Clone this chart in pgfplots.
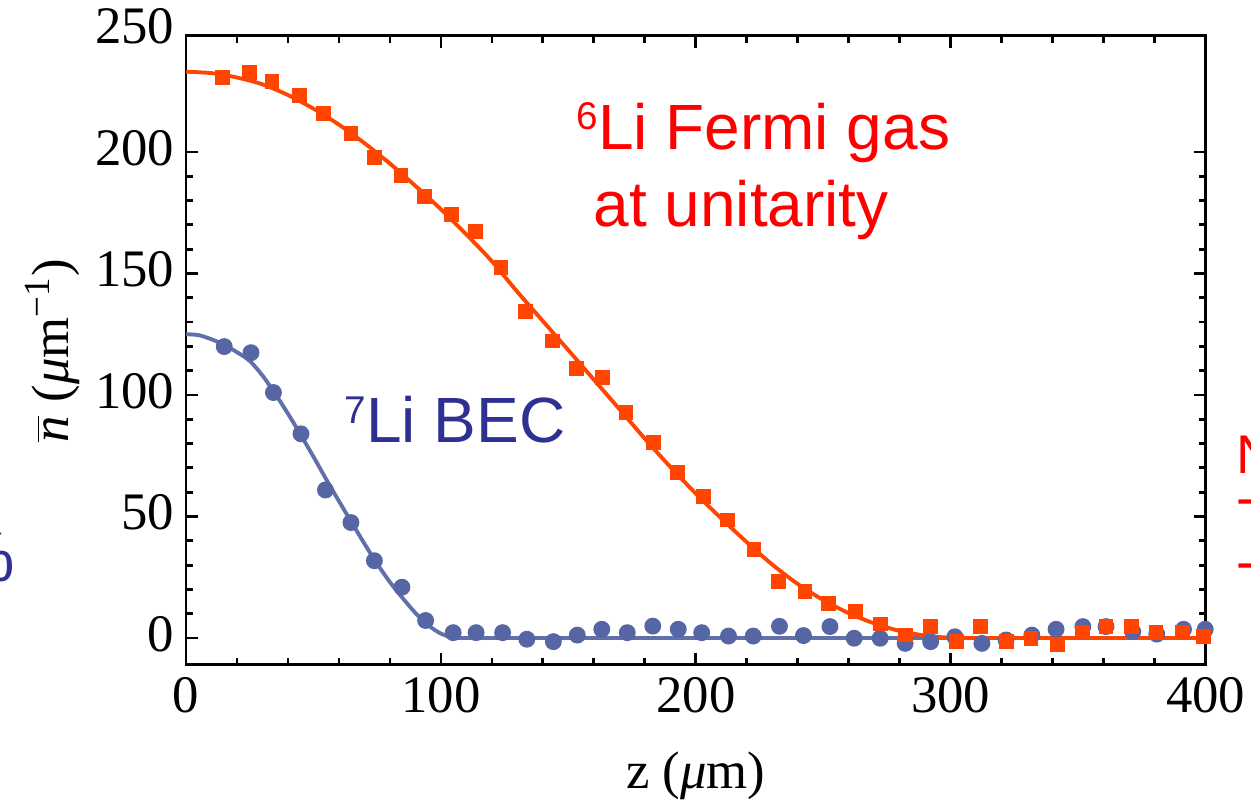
\documentclass[border=0pt]{standalone}
\usepackage{fontspec}
\setmainfont{Liberation Serif}
\newfontfamily\arial{Liberation Sans}
\usepackage{pgfplots}
\pgfplotsset{compat=1.18}

\definecolor{fermired}{RGB}{255,69,0}
\definecolor{becblue}{RGB}{86,102,165}
\definecolor{becline}{RGB}{98,112,170}
\definecolor{textblue}{RGB}{46,49,146}
\definecolor{textred}{RGB}{255,0,0}

\pgfplotstableread{
z    n
0    125
5    124.6
10   122.9
15   120.6
20   117.6
25   114
30   108
35   100.5
40   92.3
45   83.6
50   74.6
55   65.3
60   56.3
65   47.5
70   38.8
75   30.5
80   23
85   16.4
90   10.3
95   5.3
100  1.8
105  0.2
110  0
150  0
200  0
300  0
400  0
}\becfit

\pgfplotstableread{
z    n
0    233
10   232.4
20   230.6
30   227.8
40   223.4
50   217.8
60   211.2
70   203.6
80   195.2
90   186.0
100  176.4
110  166.0
120  155.0
130  142.4
140  130.4
150  118.4
160  106.3
170  94.2
180  82.0
190  70.4
200  59.4
210  49.2
220  39.4
230  30.2
240  22.2
250  15.6
260  10.2
270  6.0
280  2.9
290  1.0
300  0.1
310  0
350  0
400  0
}\fermifit

\begin{document}
\begin{tikzpicture}
\useasboundingbox (-1.86,-1.36) rectangle (10.65,6.65);
\clip (-1.86,-1.36) rectangle (10.65,6.65);
\begin{axis}[
    at={(0,0)}, anchor=south west,
    scale only axis,
    width=10.197cm, height=6.29cm,
    xmin=0, xmax=400, ymin=-11.1, ymax=247.7,
    xtick={0,100,200,300,400},
    ytick={0,50,100,150,200},
    minor x tick num=4, minor y tick num=4,
    tick align=inside,
    major tick length=0.12cm, minor tick length=0.07cm,
    every tick/.style={black, line width=0.8pt},
    axis line style={line width=0.85pt},
    /pgf/number format/assume math mode=true,
    tick label style={font=\fontsize{15}{15}\selectfont},
    xticklabel style={inner sep=0pt, anchor=north, yshift=-0.12cm},
    yticklabel style={inner sep=0pt, anchor=east, xshift=-0.11cm, yshift=0.04cm},
    label style={font=\fontsize{15}{15}\selectfont},
    xlabel={z (\textit{μ}m)},
    ylabel={$\overline{\textit{n}}$ (\textit{μ}m\textsuperscript{−1})},
    xlabel style={at={(axis description cs:0.5,-0.1971)}, anchor=base},
    ylabel style={at={(axis description cs:-0.1157,0.5)}, anchor=base},
  ]
  \addplot[becline, line width=1.1pt, smooth, no markers] table[x=z, y=n] {\becfit};
  \addplot[only marks, mark=*, mark size=2.2pt, becblue] coordinates {
    (15.0,119.9) (25.5,117.4) (34.3,101.0) (45.1,84.0) (54.7,60.9)
    (64.7,47.5) (73.9,31.8) (84.7,20.9) (94.0,7.2) (104.8,2.2)
    (113.8,2.2) (124.2,2.2) (133.7,-0.5) (144.1,-1.5) (153.5,1.2)
    (163.1,3.6) (173.1,2.2) (183.1,4.9) (193.1,3.6) (202.3,2.2)
    (212.8,0.8) (222.5,0.8) (232.8,4.8) (242.2,1.0) (252.6,4.7)
    (262.1,-0.1) (272.3,-0.1) (282.1,-2.2) (292.1,-1.5) (301.6,0.5)
    (312.2,-2.2) (321.7,-0.8) (331.8,1.2) (341.3,3.6) (351.8,4.7)
    (360.9,4.7) (371.4,2.6) (380.8,1.6) (391.3,3.6) (399.8,3.6)
  };
  \addplot[fermired, line width=1.1pt, smooth, no markers] table[x=z, y=n] {\fermifit};
  \addplot[only marks, mark=square*, mark size=1.9pt, fermired] coordinates {
    (14.4,230.7) (24.8,232.6) (33.7,229.0) (44.5,223.2) (53.9,215.9)
    (64.7,207.5) (73.8,197.8) (84.3,190.4) (93.6,181.8) (104.0,174.2)
    (113.5,167.2) (123.6,152.4) (133.3,134.3) (143.9,122.2) (153.3,111.0)
    (163.5,107.3) (172.6,92.7) (183.3,80.4) (192.7,68.0) (202.9,58.1)
    (212.4,48.6) (222.8,36.5) (232.4,23.2) (242.8,19.1) (252.0,14.3)
    (262.5,10.8) (272.3,5.8) (282.1,1.2) (291.9,4.7) (302.1,-1.5)
    (311.8,4.7) (322.0,-1.5) (331.5,-0.1) (341.8,-2.9) (351.8,2.2)
    (360.9,4.7) (371.0,4.7) (380.5,2.2) (391.0,2.2) (399.1,0.5)
  };
\end{axis}

% top tick label sits just above the frame
\node[anchor=east, inner sep=0pt, font=\fontsize{15}{15}\selectfont] at (-0.11,6.385) {250};

% annotations
\node[anchor=base west, inner sep=0pt, textred, font=\arial\fontsize{18.2}{20}\selectfont]
  at (3.90,5.15) {\raisebox{5.7pt}{\fontsize{11}{11}\selectfont 6}Li Fermi gas};
\node[anchor=base west, inner sep=0pt, textred, font=\arial\fontsize{18.2}{20}\selectfont]
  at (4.07,4.38) {at unitarity};
\node[anchor=base west, inner sep=0pt, textblue, font=\arial\fontsize{18.2}{20}\selectfont]
  at (1.58,2.22) {\raisebox{5.6pt}{\fontsize{11}{11}\selectfont 7}Li BEC};

% cut-off text at the edges of the crop
\node[anchor=base east, inner sep=0pt, textblue, font=\arial\fontsize{20}{20}\selectfont]
  at (-1.70,0.83) {\%};
\node[anchor=base west, inner sep=0pt, textred, font=\arial\fontsize{15.5}{16}\selectfont]
  at (10.50,1.91) {N};
\node[anchor=base west, inner sep=0pt, textred, font=\arial\fontsize{15.5}{16}\selectfont]
  at (10.50,1.48) {-};
\node[anchor=base west, inner sep=0pt, textred, font=\arial\fontsize{15.5}{16}\selectfont]
  at (10.50,0.84) {-};
\end{tikzpicture}
\end{document}
